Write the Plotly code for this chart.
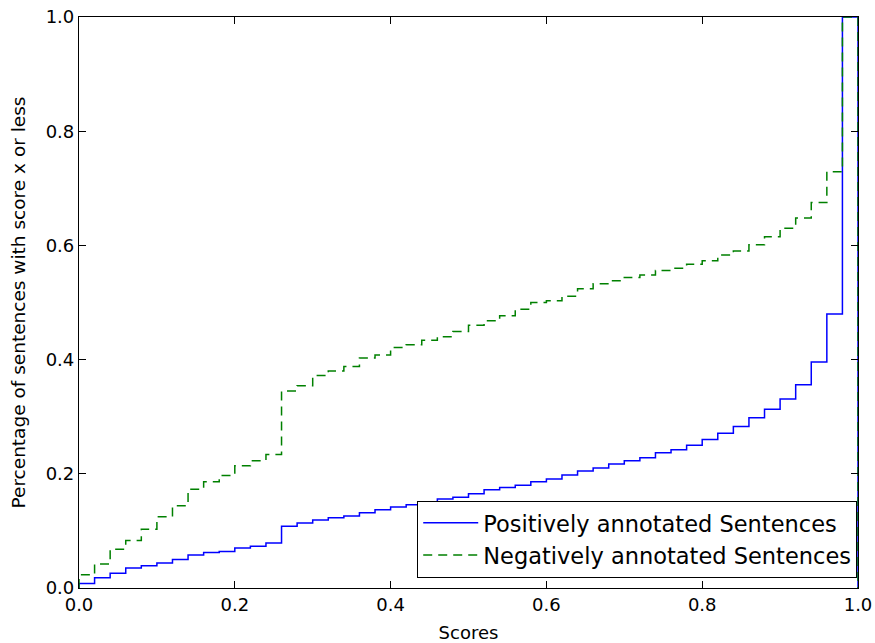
import numpy as np
import plotly.graph_objects as go

# 50 bins of width 0.02 on [0, 1]
bin_edges = [round(i * 0.02, 2) for i in range(51)]

# cumulative fraction of positively annotated sentences (per bin)
positive = [0.008, 0.018, 0.026, 0.035, 0.039, 0.044, 0.050, 0.058, 0.062, 0.064,
            0.070, 0.073, 0.079, 0.108, 0.114, 0.119, 0.123, 0.126, 0.132, 0.137,
            0.142, 0.146, 0.150, 0.156, 0.159, 0.165, 0.172, 0.176, 0.180, 0.186,
            0.191, 0.198, 0.205, 0.210, 0.217, 0.223, 0.228, 0.237, 0.242, 0.250,
            0.260, 0.271, 0.283, 0.298, 0.313, 0.331, 0.356, 0.396, 0.480, 1.000]

# cumulative fraction of negatively annotated sentences (per bin)
negative = [0.023, 0.042, 0.068, 0.083, 0.103, 0.125, 0.144, 0.173, 0.186, 0.197,
            0.214, 0.223, 0.234, 0.345, 0.354, 0.372, 0.380, 0.388, 0.403, 0.408,
            0.421, 0.426, 0.434, 0.440, 0.449, 0.460, 0.468, 0.477, 0.488, 0.500,
            0.503, 0.511, 0.524, 0.533, 0.538, 0.544, 0.548, 0.556, 0.560, 0.567,
            0.573, 0.583, 0.590, 0.601, 0.615, 0.630, 0.648, 0.675, 0.729, 1.000]

x_ticks = [0.0, 0.2, 0.4, 0.6, 0.8, 1.0]
x_tick_labels = ["0.0", "0.2", "0.4", "0.6", "0.8", "1.0"]
y_ticks = [0.0, 0.2, 0.4, 0.6, 0.8, 1.0]
y_tick_labels = ["0.0", "0.2", "0.4", "0.6", "0.8", "1.0"]


def step_path(vals):
    xs = [bin_edges[0]] + bin_edges[:-1] + [bin_edges[-1]]
    ys = [0.0] + list(vals) + [0.0]
    return xs, ys


fig = go.Figure()
px, py = step_path(positive)
fig.add_trace(go.Scatter(x=px, y=py, mode="lines", line_shape="hv",
                         line=dict(color="#0000ff", width=1.5),
                         name="Positively annotated Sentences"))
nx, ny = step_path(negative)
fig.add_trace(go.Scatter(x=nx, y=ny, mode="lines", line_shape="hv",
                         line=dict(color="#008000", width=1.5, dash="9px,6px"),
                         name="Negatively annotated Sentences"))

axis_common = dict(showline=True, linecolor="black", linewidth=1.2, mirror="ticks",
                   ticks="inside", ticklen=7, tickcolor="black", tickwidth=1,
                   showgrid=False, zeroline=False, automargin=False,
                   tickfont=dict(family="DejaVu Sans", size=18, color="black"))

fig.update_xaxes(range=[0, 1], tickvals=x_ticks, ticktext=x_tick_labels,
                 title=dict(text="Scores", font=dict(family="DejaVu Sans", size=18, color="black")),
                 **axis_common)
fig.update_yaxes(range=[0, 1], tickvals=y_ticks, ticktext=y_tick_labels,
                 title=dict(text="Percentage of sentences with score x or less",
                            font=dict(family="DejaVu Sans", size=18.5, color="black")),
                 **axis_common)

fig.update_layout(
    width=875, height=643,
    margin=dict(l=79, r=17, t=17, b=55),
    paper_bgcolor="white", plot_bgcolor="white",
    font=dict(family="DejaVu Sans", size=18, color="black"),
    legend=dict(x=0.999, y=0.018, xanchor="right", yanchor="bottom",
                bgcolor="white", bordercolor="black", borderwidth=1,
                font=dict(family="DejaVu Sans", size=22.5, color="black"),
                itemwidth=55, tracegroupgap=0),
)

fig.write_html("out.html")
